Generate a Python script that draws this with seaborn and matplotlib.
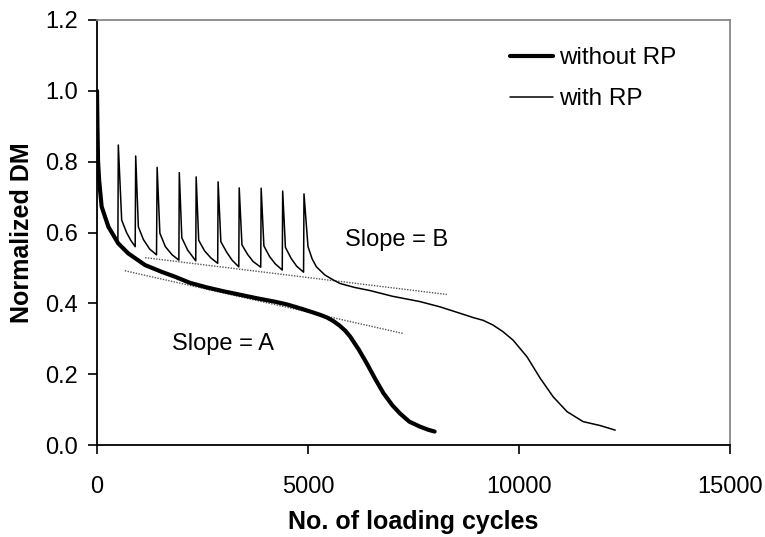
import matplotlib
matplotlib.use("Agg")
import matplotlib.pyplot as plt
import seaborn as sns
import pandas as pd

# ---- data ----
without_x = [0, 10, 25, 50, 110, 270, 505, 740, 1140, 1530, 1850, 2200, 2600, 3000,
             3400, 3800, 4200, 4500, 4810, 5100, 5300, 5450, 5600, 5750, 5880, 6000,
             6200, 6390, 6600, 6790, 7000, 7180, 7400, 7650, 7850, 8000]
without_y = [1.0, 0.9, 0.8, 0.748, 0.673, 0.616, 0.569, 0.541, 0.508, 0.489, 0.475, 0.458,
             0.445, 0.434, 0.424, 0.414, 0.405, 0.397, 0.386, 0.375, 0.367, 0.36, 0.35,
             0.337, 0.323, 0.306, 0.27, 0.231, 0.185, 0.146, 0.112, 0.089, 0.066, 0.052,
             0.043, 0.038]

with_x = [0, 10, 25, 50, 110, 270, 495,
          505, 585, 700, 800, 905,
          917, 980, 1100, 1250, 1410,
          1425, 1490, 1620, 1780, 1940,
          1950, 2010, 2150, 2340,
          2350, 2410, 2550, 2700, 2860,
          2870, 2935, 3070, 3200, 3360,
          3370, 3435, 3570, 3700, 3880,
          3890, 3955, 4090, 4220, 4390,
          4400, 4465, 4600, 4730, 4895,
          4905, 5000, 5100, 5200, 5400, 5600, 5760, 6100, 6470, 7000, 7650, 8130,
          8600, 8910, 9150, 9380, 9620, 9860, 10190, 10500, 10810, 11140, 11520, 11920,
          12280]
with_y = [1.0, 0.9, 0.8, 0.748, 0.673, 0.616, 0.575,
          0.847, 0.635, 0.60, 0.578, 0.56,
          0.816, 0.616, 0.58, 0.553, 0.537,
          0.784, 0.598, 0.56, 0.537, 0.522,
          0.769, 0.585, 0.55, 0.52,
          0.757, 0.578, 0.548, 0.528, 0.513,
          0.743, 0.574, 0.545, 0.522, 0.503,
          0.726, 0.565, 0.538, 0.518, 0.502,
          0.725, 0.562, 0.532, 0.512, 0.494,
          0.717, 0.558, 0.527, 0.505, 0.488,
          0.709, 0.56, 0.525, 0.503, 0.48, 0.466, 0.456, 0.445, 0.436, 0.42, 0.405, 0.39,
          0.372, 0.36, 0.352, 0.339, 0.32, 0.296, 0.249, 0.189, 0.136, 0.094, 0.066, 0.055,
          0.042]

slope_a_x = [660, 7250]
slope_a_y = [0.492, 0.315]
slope_b_x = [1140, 8290]
slope_b_y = [0.529, 0.425]

x_ticks = [0, 5000, 10000, 15000]
y_ticks = [0.0, 0.2, 0.4, 0.6, 0.8, 1.0, 1.2]

# ---- plot ----
sns.set_style("ticks")
plt.rcParams['font.family'] = ['Liberation Sans', 'DejaVu Sans']
plt.rcParams['text.color'] = 'black'
plt.rcParams['axes.labelcolor'] = 'black'
plt.rcParams['xtick.color'] = 'black'
plt.rcParams['ytick.color'] = 'black'

fig = plt.figure(figsize=(7.65, 5.37), dpi=100)
ax = fig.add_axes([97/765, 92/537, (730-97)/765, (445-20)/537])

df_wo = pd.DataFrame({"x": without_x, "y": without_y})
df_w = pd.DataFrame({"x": with_x, "y": with_y})
df_a = pd.DataFrame({"x": slope_a_x, "y": slope_a_y})
df_b = pd.DataFrame({"x": slope_b_x, "y": slope_b_y})

sns.lineplot(data=df_a, x="x", y="y", ax=ax, color="#555555", lw=1.0,
             linestyle=(0, (1, 1)), sort=False)
sns.lineplot(data=df_b, x="x", y="y", ax=ax, color="#555555", lw=1.0,
             linestyle=(0, (1, 1)), sort=False)
sns.lineplot(data=df_wo, x="x", y="y", ax=ax, color="black", lw=3.0, sort=False,
             label="without RP")
sns.lineplot(data=df_w, x="x", y="y", ax=ax, color="black", lw=1.1, sort=False,
             label="with RP")

ax.set_xlim(0, 15000)
ax.set_ylim(0, 1.2)
ax.set_xticks(x_ticks)
ax.set_xticklabels([str(t) for t in x_ticks])
ax.set_yticks(y_ticks)
ax.set_yticklabels([f"{t:.1f}" for t in y_ticks])
ax.tick_params(axis='both', labelsize=17, direction='out', length=6.5, width=1.2,
               color='black', labelcolor='black')
ax.tick_params(axis='x', pad=16)
ax.tick_params(axis='y', pad=7)

for s in ['left', 'bottom']:
    ax.spines[s].set_color('black')
    ax.spines[s].set_linewidth(1.3)
for s in ['top', 'right']:
    ax.spines[s].set_visible(True)
    ax.spines[s].set_color('#888888')
    ax.spines[s].set_linewidth(1.3)

ax.set_xlabel("No. of loading cycles", fontsize=18, fontweight='bold', va='center',
              color='black')
ax.set_ylabel("Normalized DM", fontsize=18, fontweight='bold', va='center',
              color='black')
ax.xaxis.set_label_coords(0.5, (445 - 522) / 425)
ax.yaxis.set_label_coords((22 - 97) / 633, 0.5)

ax.text(1780, 0.285, "Slope = A", fontsize=17, va='center', ha='left', color='black')
ax.text(5880, 0.58, "Slope = B", fontsize=17, va='center', ha='left', color='black')

leg = ax.legend(loc='upper left', bbox_to_anchor=(510/765, 1 - 47/537),
                bbox_transform=fig.transFigure, frameon=False, fontsize=17.5,
                handlelength=1.75, handletextpad=0.25, labelspacing=0.8,
                borderpad=0, borderaxespad=0, labelcolor='black')

fig.savefig("out.png", dpi=100)
